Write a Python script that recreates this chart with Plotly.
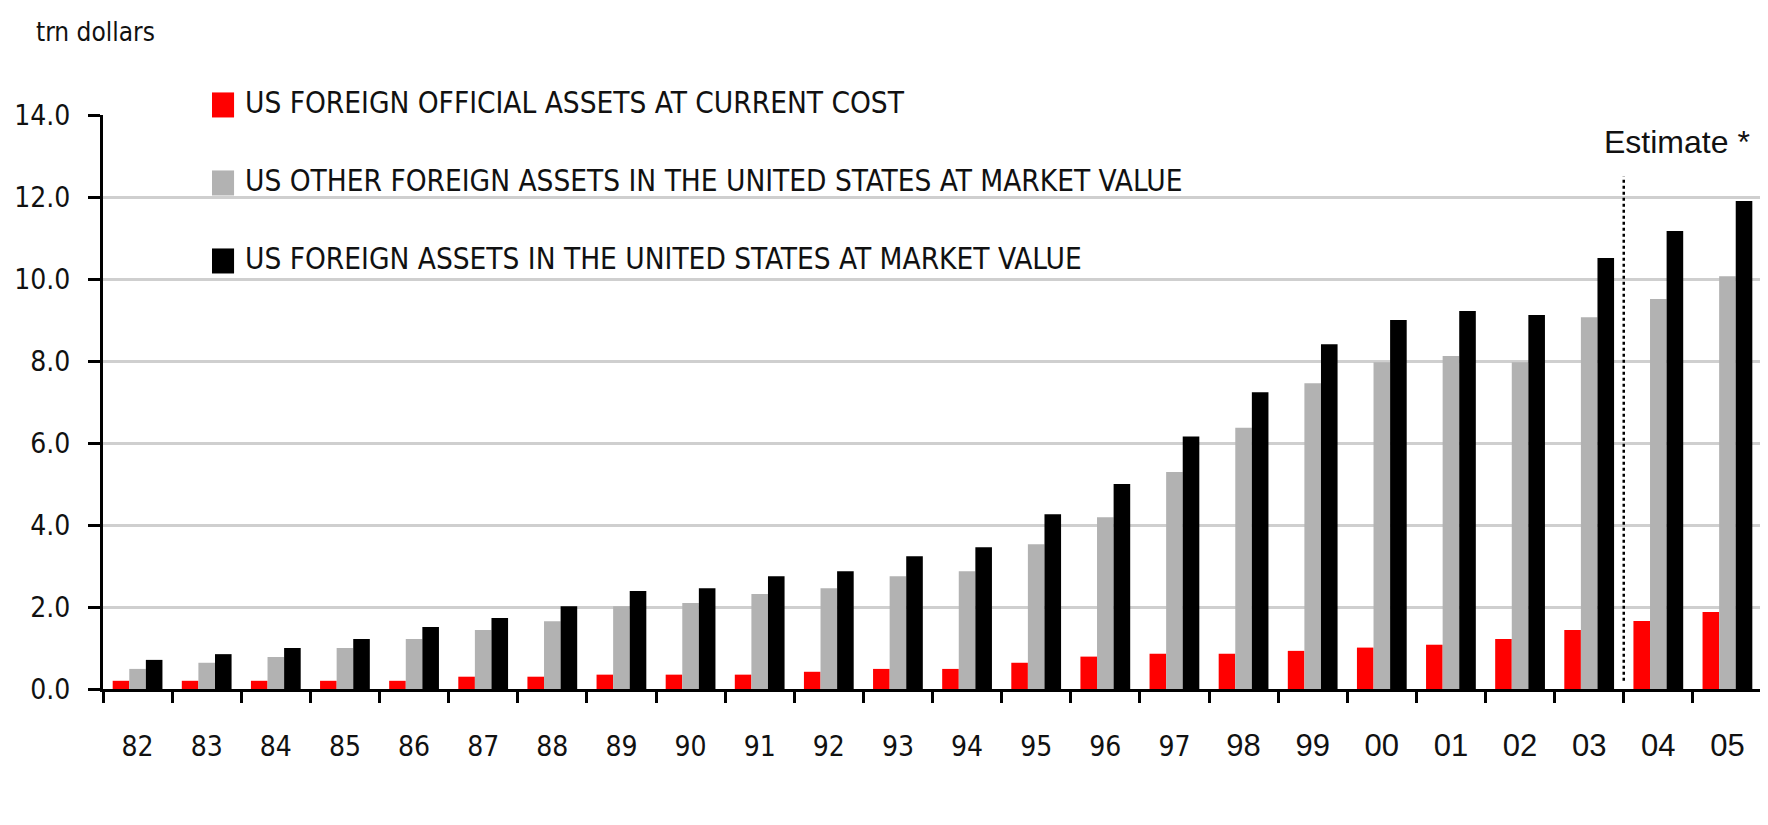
import plotly.graph_objects as go

YEARS = ["82", "83", "84", "85", "86", "87", "88", "89", "90", "91", "92", "93",
         "94", "95", "96", "97", "98", "99", "00", "01", "02", "03", "04", "05"]

OFFICIAL = [0.20, 0.20, 0.20, 0.20, 0.20, 0.30, 0.30, 0.35, 0.35, 0.35, 0.42, 0.49,
            0.49, 0.64, 0.79, 0.86, 0.86, 0.93, 1.01, 1.08, 1.22, 1.44, 1.66, 1.88]
OTHER = [0.49, 0.64, 0.78, 1.00, 1.22, 1.44, 1.65, 2.02, 2.10, 2.32, 2.46, 2.75,
         2.87, 3.53, 4.19, 5.29, 6.37, 7.46, 7.97, 8.12, 7.97, 9.07, 9.51, 10.07]
TOTAL = [0.71, 0.85, 1.00, 1.22, 1.51, 1.73, 2.02, 2.39, 2.46, 2.75, 2.87, 3.24,
         3.46, 4.26, 5.00, 6.16, 7.24, 8.41, 9.00, 9.22, 9.12, 10.51, 11.17, 11.90]

SERIES_NAMES = [
    "US FOREIGN OFFICIAL ASSETS AT CURRENT COST",
    "US OTHER FOREIGN ASSETS IN THE UNITED STATES AT MARKET VALUE",
    "US FOREIGN ASSETS IN THE UNITED STATES AT MARKET VALUE",
]
SERIES_COLORS = ["#ff0000", "#b2b2b2", "#000000"]

Y_TICKS = [0, 2, 4, 6, 8, 10, 12, 14]

NARROW = "Liberation Sans Narrow, DejaVu Sans Condensed, Arial Narrow, sans-serif"
WIDE = "Liberation Sans, Arial, sans-serif"

# the later years are printed in a wider face on the original
wide_from = YEARS.index("98")
tick_text = [
    y if i < wide_from else f'<span style="font-family:{WIDE};font-size:31px">{y}</span>'
    for i, y in enumerate(YEARS)
]

fig = go.Figure()
for name, vals, color in zip(SERIES_NAMES, [OFFICIAL, OTHER, TOTAL], SERIES_COLORS):
    fig.add_trace(go.Bar(x=YEARS, y=vals, name=name, marker=dict(color=color, line=dict(width=0))))

# hand-made legend: squares plus text sitting on the top grid lines
for i, (name, color) in enumerate(zip(SERIES_NAMES, SERIES_COLORS)):
    cy = 1.0175 - i * 0.1359
    fig.add_shape(type="rect", xref="paper", yref="paper",
                  x0=0.0657, x1=0.079, y0=cy - 0.0218, y1=cy + 0.0218,
                  fillcolor=color, line=dict(width=0))
    fig.add_annotation(xref="paper", yref="paper", x=0.0845, y=cy, yshift=2,
                       text=name, showarrow=False, xanchor="left", yanchor="middle",
                       font=dict(family=NARROW, size=29.5, color="#111111"))

# estimate separator
fig.add_shape(type="line", xref="x", yref="y", x0=21.5, x1=21.5, y0=0.2, y1=12.5,
              line=dict(color="#000000", width=2.5, dash="dot"))
fig.add_annotation(xref="paper", yref="y", x=1.0, y=13.34, text="Estimate *",
                   showarrow=False, xanchor="right", yanchor="middle", xshift=-10,
                   font=dict(family=WIDE, size=32, color="#111111"))

fig.add_annotation(xref="paper", yref="paper", x=-0.0368, y=1.1307, xshift=-8, yshift=8,
                   text="trn dollars", showarrow=False, xanchor="left", yanchor="middle",
                   font=dict(family=NARROW, size=26, color="#111111"))

fig.update_layout(
    width=1768,
    height=825,
    margin=dict(l=95, r=14, t=107, b=144),
    paper_bgcolor="white",
    plot_bgcolor="white",
    barmode="group",
    bargap=0.28,
    bargroupgap=0,
    showlegend=False,
    font=dict(family=NARROW, size=28, color="#111111"),
    xaxis=dict(
        type="category",
        tickmode="array",
        tickvals=YEARS,
        ticktext=tick_text,
        tickson="boundaries",
        ticks="outside",
        ticklen=11,
        tickwidth=2.5,
        tickcolor="#000000",
        showline=True,
        linecolor="#000000",
        linewidth=3,
        showgrid=False,
        ticklabelstandoff=30,
        automargin=False,
    ),
    yaxis=dict(
        range=[0, 14],
        tickvals=Y_TICKS,
        tickformat=".1f",
        ticks="outside",
        ticklen=12,
        tickwidth=2.5,
        tickcolor="#000000",
        showline=True,
        linecolor="#000000",
        linewidth=3,
        showgrid=True,
        gridcolor="#cfcfcf",
        gridwidth=2.5,
        zeroline=False,
        ticklabelstandoff=12,
        automargin=False,
    ),
)

fig.write_html("out.html")
